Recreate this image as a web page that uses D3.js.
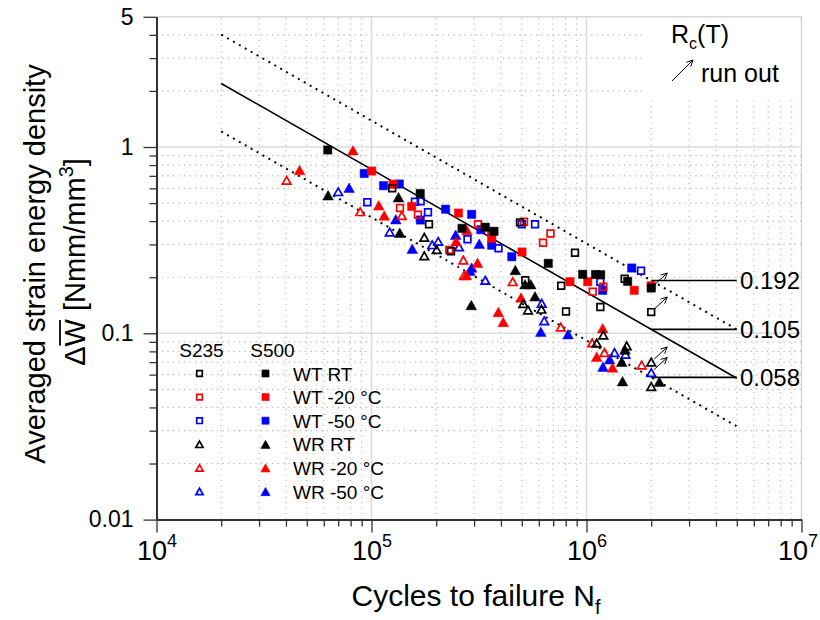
<!DOCTYPE html>
<html>
<head>
<meta charset="utf-8">
<script src="https://cdn.jsdelivr.net/npm/d3@7"></script>
<style>
  body { margin: 0; background: #fff; }
  svg { display: block; font-family: "Liberation Sans", Arial, Helvetica, sans-serif; }
</style>
</head>
<body>
<svg id="chart" width="820" height="620"></svg>
<script>
// Fatigue data: [cycles to failure N_f, averaged strain energy density ΔW (Nmm/mm³)]
// WT = welded T-joint, WR = welded ribbon; S235 drawn open, S500 drawn filled.
const s500_WT_RT = [[62600,0.964],[168500,0.563],[263600,0.366],[338300,0.371],[371400,0.353],
  [664000,0.2375],[960000,0.2073],[1101000,0.2068],[1164000,0.2063],[1554000,0.190],[2000000,0.175]];
const s235_WT_RT = [[124800,0.600],[185100,0.385],[234300,0.2755],[490600,0.394],[519200,0.1925],
  [884000,0.2708],[762500,0.180],[803000,0.1309],[1160000,0.1384],[1505000,0.1964],[2000000,0.130]];
const s500_WT_m20 = [[100200,0.743],[125900,0.631],[153800,0.480],[253900,0.442],[362400,0.3454],
  [362400,0.3236],[501200,0.2732],[838000,0.1892],[1013000,0.1892],[1667000,0.1701],[2000000,0.180]];
const s235_WT_m20 = [[135700,0.4707],[164500,0.4332],[230100,0.280],[312800,0.385],[512100,0.3972],
  [680000,0.3433],[627700,0.3064],[1197000,0.1779],[1069000,0.1673]];
const s500_WT_m50 = [[92500,0.721],[113700,0.620],[134700,0.633],[168700,0.4057],[221200,0.4636],
  [292400,0.4352],[322400,0.3598],[362400,0.2971],[449400,0.2577],[1189000,0.1701],[1623000,0.2241]];
const s235_WT_m50 = [[95600,0.5048],[159300,0.5085],[169300,0.511],[183100,0.4467],[279600,0.3196],
  [389700,0.2859],[500200,0.3846],[576100,0.385],[1160000,0.1892],[1793000,0.2165]];
const s500_WR_RT = [[62800,0.5504],[133500,0.5377],[135300,0.3467],[291200,0.1418],[466500,0.2187],
  [517600,0.1835],[550200,0.1835],[576100,0.158],[1510000,0.0818],[1458000,0.0704],[1471000,0.0553],[2181000,0.055]];
const s235_WR_RT = [[176000,0.3276],[176000,0.2606],[201100,0.2813],[508200,0.1445],[534500,0.1334],
  [617000,0.1347],[1197000,0.0979],[1115000,0.0887],[1538000,0.0857],[2000000,0.0701],[2000000,0.0518]];
const s500_WR_m20 = [[46300,0.7524],[82000,0.960],[108100,0.4865],[114600,0.4289],[247200,0.3118],
  [277600,0.3584],[311200,0.239],[276000,0.2055],[388900,0.1301],[410200,0.115],[495900,0.1557],
  [1189000,0.1064],[1115000,0.0749],[1321000,0.0655]];
const s235_WR_m20 = [[40300,0.6628],[88600,0.4495],[138300,0.4289],[267300,0.2474],[269300,0.2043],
  [453700,0.1892],[759400,0.1081],[1063000,0.0889],[1212000,0.0788],[1806000,0.0676]];
const s500_WR_m50 = [[78700,0.6046],[129700,0.4097],[154700,0.2845],[246400,0.3382],[317100,0.3027],
  [292400,0.2255],[287200,0.2165],[613000,0.102],[820400,0.0989],[1281000,0.0726],[1193000,0.0662]];
const s235_WR_m50 = [[70000,0.5754],[121500,0.3498],[191500,0.2989],[204300,0.3114],[255300,0.2912],
  [338300,0.1925],[618900,0.1449],[635800,0.1168],[1350000,0.0788],[1518000,0.0772],[2000000,0.0616]];

// Specimens that did not fail (run outs)
const runOuts = [[2000000,0.175],[2000000,0.130],[2000000,0.0701],[2000000,0.0616]];

// Scatter band: values at N = 2·10^6, common slope in log-log space
const bandLevels = [0.192, 0.105, 0.058];
const bandStyles = ["dotted", "solid", "dotted"];
const bandSlope = 0.66;
const bandRef = 2e6, bandStart = 2e4, bandEnd = 5e6;

const seriesLabels = ["WT RT", "WT -20 °C", "WT -50 °C", "WR RT", "WR -20 °C", "WR -50 °C"];
const seriesColors = ["#000000", "#ff0000", "#0000ff", "#000000", "#ff0000", "#0000ff"];
const seriesShapes = ["square", "square", "square", "triangle", "triangle", "triangle"];
const s235Data = [s235_WT_RT, s235_WT_m20, s235_WT_m50, s235_WR_RT, s235_WR_m20, s235_WR_m50];
const s500Data = [s500_WT_RT, s500_WT_m20, s500_WT_m50, s500_WR_RT, s500_WR_m20, s500_WR_m50];

const xMajor = [1e4, 1e5, 1e6, 1e7];
const xExponents = ["4", "5", "6", "7"];
const yMajor = [0.01, 0.1, 1, 5];
const yTickLabels = ["0.01", "0.1", "1", "5"];

// ---------------------------------------------------------------
const svg = d3.select("#chart");
const x = d3.scaleLog().domain([1e4, 1e7]).range([156.5, 801.5]);
const y = d3.scaleLog().domain([0.01, 5]).range([519.6, 16.8]);
const [x0, x1] = x.range();
const [y0, y1] = y.range();

const minorX = [];
for (let e = 4; e < 7; e++) for (let k = 2; k <= 9; k++) minorX.push(k * Math.pow(10, e));
const minorY = [];
for (let e = -2; e <= 0; e++) for (let k = 2; k <= 9; k++) {
  const v = k * Math.pow(10, e);
  if (v < 5) minorY.push(v);
}

// grid
const grid = svg.append("g");
grid.selectAll(".mx").data(minorX).join("line")
  .attr("x1", d => x(d)).attr("x2", d => x(d)).attr("y1", y0).attr("y2", y1)
  .attr("stroke", "#b4b4b4").attr("stroke-width", 1.2).attr("stroke-dasharray", "1.2,4.3");
grid.selectAll(".my").data(minorY).join("line")
  .attr("y1", d => y(d)).attr("y2", d => y(d)).attr("x1", x0).attr("x2", x1)
  .attr("stroke", "#b4b4b4").attr("stroke-width", 1.2).attr("stroke-dasharray", "1.2,4.3");
grid.selectAll(".Mx").data([1e5, 1e6]).join("line")
  .attr("x1", d => x(d)).attr("x2", d => x(d)).attr("y1", y0).attr("y2", y1)
  .attr("stroke", "#dcdcdc").attr("stroke-width", 1.6);
grid.selectAll(".My").data([0.1, 1]).join("line")
  .attr("y1", d => y(d)).attr("y2", d => y(d)).attr("x1", x0).attr("x2", x1)
  .attr("stroke", "#dcdcdc").attr("stroke-width", 1.6);

// white panel behind the run-out key
svg.append("rect").attr("x", 645).attr("y", y1).attr("width", x1 - 645).attr("height", 96 - y1)
  .attr("fill", "#fff");

// frame (top and right)
svg.append("path").attr("d", `M${x0},${y1}H${x1}V${y0}`)
  .attr("fill", "none").attr("stroke", "#d6d6d6").attr("stroke-width", 1.6);

// scatter band lines
const bandLine = d3.line().x(d => x(d[0])).y(d => y(d[1]));
bandLevels.forEach((lv, i) => {
  const pts = [bandStart, bandEnd].map(n => [n, lv * Math.pow(n / bandRef, -bandSlope)]);
  svg.append("path").attr("d", bandLine(pts)).attr("fill", "none")
    .attr("stroke", "#000")
    .attr("stroke-width", bandStyles[i] === "solid" ? 1.6 : 2)
    .attr("stroke-dasharray", bandStyles[i] === "solid" ? null : "2,4.8");
});

// level markers at N = 2·10^6 with labels
bandLevels.forEach(lv => {
  svg.append("line").attr("x1", x(bandRef)).attr("x2", x(bandEnd))
    .attr("y1", y(lv)).attr("y2", y(lv)).attr("stroke", "#000").attr("stroke-width", 1.6);
  svg.append("text").attr("x", 740).attr("y", y(lv) + 8.5)
    .attr("font-size", 24).text(d3.format(".3f")(lv));
});

// markers
function markerPath(shape, s) {
  if (shape === "square") {
    const h = s / 2;
    return `M${-h},${-h}H${h}V${h}H${-h}Z`;
  }
  const w = s * 1.3, hh = s * 1.15;
  return `M0,${-hh / 2}L${w / 2},${hh / 2}L${-w / 2},${hh / 2}Z`;
}
function drawMarker(g, shape, color, filled, cx, cy, s) {
  const inset = filled ? 0 : 0.8;
  g.append("path")
    .attr("transform", `translate(${cx},${cy})`)
    .attr("d", markerPath(shape, s - 2 * inset))
    .attr("fill", filled ? color : "none")
    .attr("stroke", color)
    .attr("stroke-width", filled ? 0.5 : 1.7)
    .attr("stroke-linejoin", "miter");
}

const pts = svg.append("g");
for (let i = seriesLabels.length - 1; i >= 0; i--) {
  const s = seriesShapes[i] === "square" ? 8.3 : 8.2;
  s235Data[i].forEach(d => drawMarker(pts, seriesShapes[i], seriesColors[i], false, x(d[0]), y(d[1]), s));
  s500Data[i].forEach(d => drawMarker(pts, seriesShapes[i], seriesColors[i], true, x(d[0]), y(d[1]), s));
}

// run-out arrows
function arrow(g, xa, ya, xb, yb) {
  g.append("line").attr("x1", xa).attr("y1", ya).attr("x2", xb).attr("y2", yb)
    .attr("stroke", "#000").attr("stroke-width", 1);
  const ang = Math.atan2(yb - ya, xb - xa), L = 7, spread = 0.45;
  const p = a => [xb - L * Math.cos(a), yb - L * Math.sin(a)];
  const a1 = p(ang - spread), a2 = p(ang + spread);
  g.append("path").attr("d", `M${a1[0]},${a1[1]}L${xb},${yb}L${a2[0]},${a2[1]}`)
    .attr("fill", "none").attr("stroke", "#000").attr("stroke-width", 1);
}
const arr = svg.append("g");
runOuts.forEach(d => {
  const cx = x(d[0]), cy = y(d[1]);
  arrow(arr, cx + 3, cy - 3, cx + 16, cy - 15);
});

// axes
const axisColor = "#333";
const gy = svg.append("g").attr("transform", `translate(${x0},0)`);
gy.append("g").call(d3.axisLeft(y).tickValues(minorY).tickSize(7).tickFormat("").tickSizeOuter(0));
gy.append("g").call(d3.axisLeft(y).tickValues(yMajor).tickSize(13).tickPadding(10).tickSizeOuter(0)
  .tickFormat((d, i) => yTickLabels[i]));
gy.selectAll("path.domain").attr("stroke", axisColor).attr("stroke-width", 2);
gy.selectAll(".tick line").attr("stroke", axisColor).attr("stroke-width", 1.3);
gy.selectAll("text").attr("font-size", 23).attr("fill", "#000")
  .attr("font-family", "Liberation Sans, Arial, sans-serif");

const gx = svg.append("g").attr("transform", `translate(0,${y0})`);
gx.append("g").call(d3.axisBottom(x).tickValues(minorX).tickSize(7).tickFormat("").tickSizeOuter(0));
gx.append("g").attr("class", "xmaj").call(d3.axisBottom(x).tickValues(xMajor).tickSize(13).tickSizeOuter(0)
  .tickFormat(""));
gx.selectAll("path.domain").attr("stroke", axisColor).attr("stroke-width", 2);
gx.selectAll(".tick line").attr("stroke", axisColor).attr("stroke-width", 1.3);
gx.select(".xmaj").selectAll(".tick").each(function (d, i) {
  const last = i === xMajor.length - 1;
  const t = d3.select(this).append("text").attr("fill", "#000").attr("y", 40).attr("dy", null)
    .attr("x", last ? 16 : 0)
    .attr("text-anchor", last ? "end" : "middle").attr("font-size", 27)
    .attr("font-family", "Liberation Sans, Arial, sans-serif");
  t.append("tspan").text("10");
  t.append("tspan").attr("dy", -13).attr("font-size", 18).text(xExponents[i]);
});

// axis titles
const xt = svg.append("text").attr("x", 476).attr("y", 606)
  .attr("text-anchor", "middle").attr("font-size", 30);
xt.append("tspan").text("Cycles to failure N");
xt.append("tspan").attr("dy", 8).attr("font-size", 20).text("f");

const yt = svg.append("g").attr("transform", `translate(45,264) rotate(-90)`);
yt.append("text").attr("text-anchor", "middle").attr("font-size", 29)
  .text("Averaged strain energy density");
const yt2 = svg.append("g").attr("transform", `translate(85,262) rotate(-90)`);
const t2 = yt2.append("text").attr("text-anchor", "middle").attr("font-size", 29);
t2.append("tspan").text("ΔW [Nmm/mm");
t2.append("tspan").attr("dy", -12).attr("font-size", 20).text("3");
t2.append("tspan").attr("dy", 12).text("]");
// bar over W
const ext = t2.node().getExtentOfChar(1);
yt2.append("line").attr("x1", ext.x + 1).attr("x2", ext.x + ext.width - 1)
  .attr("y1", ext.y + 1).attr("y2", ext.y + 1).attr("stroke", "#000").attr("stroke-width", 1.8);

// run-out key
const key = svg.append("text").attr("x", 671).attr("y", 43).attr("font-size", 25);
key.append("tspan").text("R");
key.append("tspan").attr("dy", 6).attr("font-size", 16).text("c");
key.append("tspan").attr("dy", -6).text("(T)");
arrow(svg, 672, 81, 693, 60);
svg.append("text").attr("x", 701).attr("y", 82).attr("font-size", 25).text("run out");

// legend
const lg = svg.append("g").attr("font-size", 19);
lg.append("text").attr("x", 201.5).attr("y", 357).attr("text-anchor", "middle").text("S235");
lg.append("text").attr("x", 272.5).attr("y", 357).attr("text-anchor", "middle").text("S500");
seriesLabels.forEach((lab, i) => {
  const ry = 373.5 + i * 23.6;
  drawMarker(lg, seriesShapes[i], seriesColors[i], false, 199.5, ry, 7.2);
  drawMarker(lg, seriesShapes[i], seriesColors[i], true, 265.5, ry, 7.2);
  lg.append("text").attr("x", 293).attr("y", ry + 7).text(lab);
});
</script>
</body>
</html>
